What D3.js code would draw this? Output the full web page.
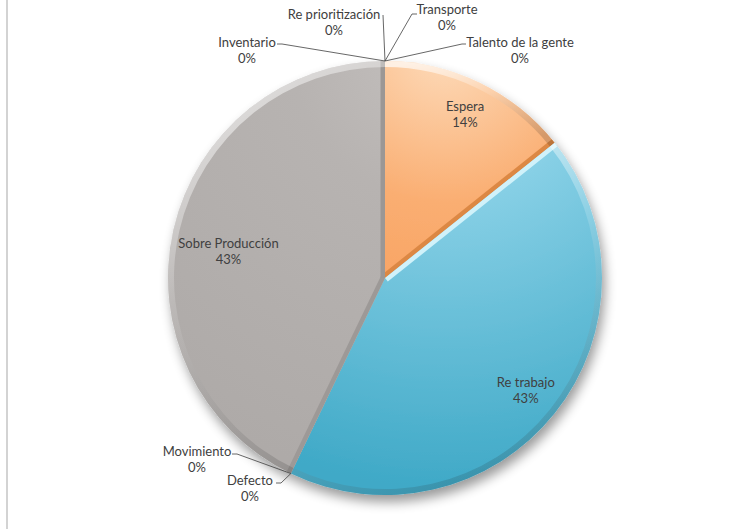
<!DOCTYPE html>
<html><head><meta charset="utf-8">
<script src="https://cdn.jsdelivr.net/npm/d3@7"></script>
<style>body{margin:0;background:#fff}svg{display:block}</style>
</head><body>
<script>
// ---- data ----
const categories = ["Transporte","Talento de la gente","Espera","Re trabajo","Defecto","Movimiento","Sobre Producción","Inventario","Re prioritización"];
const values     = [0, 0, 1, 3, 0, 0, 3, 0, 0];

// ---- layout / style (not data) ----
const W = 753, H = 529, cx = 385, cy = 278, R = 217;
const fills = {
  "Espera":          ["#fddcbc","#faae72","#f58f45"],
  "Re trabajo":      ["#bfe9f6","#86cfe5","#3fa9c7"],
  "Sobre Producción":["#c4c0be","#b7b3b1","#aeaaa8"]
};
// edge colours: [start edge, end edge]
const edges = {
  "Espera":          [null,"#dc8844"],
  "Re trabajo":      ["#d0f2fa",null],
  "Sobre Producción":["#9d9997","#9b9795"]
};
const insideR = {"Espera":0.85,"Re trabajo":0.83,"Sobre Producción":0.74};
const insideDy = {"Espera":2,"Re trabajo":0,"Sobre Producción":9};
const zeroLabels = {
  "Transporte":         {x:447,y:14, ex:417,ey:14, kx:412},
  "Talento de la gente":{x:520,y:47, ex:466,ey:44, kx:462},
  "Defecto":            {x:250,y:485,ex:276,ey:483,kx:281},
  "Movimiento":         {x:197,y:456,ex:232,ey:454,kx:237},
  "Inventario":         {x:247,y:47, ex:277,ey:44, kx:282},
  "Re prioritización":  {x:334,y:19, ex:383,ey:15, kx:383}
};
const FS = 13;

const svg = d3.select("body").append("svg").attr("width",W).attr("height",H)
  .style("font-family","Lato, 'Open Sans', sans-serif");
svg.append("rect").attr("width",W).attr("height",H).attr("fill","#fff");
svg.append("line").attr("x1",7).attr("x2",7).attr("y1",0).attr("y2",H)
  .attr("stroke","#d3d3d3").attr("stroke-width",2);

const defs = svg.append("defs");
const f = defs.append("filter").attr("id","sh").attr("x","-20%").attr("y","-20%").attr("width","140%").attr("height","140%");
f.append("feGaussianBlur").attr("in","SourceAlpha").attr("stdDeviation",6);
f.append("feOffset").attr("dx",3).attr("dy",7).attr("result","b");
f.append("feComponentTransfer").append("feFuncA").attr("type","linear").attr("slope",0.4);
const fm = f.append("feMerge"); fm.append("feMergeNode"); fm.append("feMergeNode").attr("in","SourceGraphic");

const fillKeys = Object.keys(fills);
fillKeys.forEach((k,i)=>{
  const c = fills[k];
  const g = defs.append("radialGradient").attr("id","g"+i)
    .attr("gradientUnits","userSpaceOnUse").attr("cx",60).attr("cy",-230).attr("r",440);
  g.append("stop").attr("offset","0%").attr("stop-color",c[0]);
  g.append("stop").attr("offset","35%").attr("stop-color",c[1]);
  g.append("stop").attr("offset","100%").attr("stop-color",c[2]);
});
const gradId = k => "url(#g"+fillKeys.indexOf(k)+")";
const rim = defs.append("linearGradient").attr("id","rim").attr("x1","0.2").attr("y1","0").attr("x2","0.6").attr("y2","1");
rim.append("stop").attr("offset","0%").attr("stop-color","#fff").attr("stop-opacity",0.7);
rim.append("stop").attr("offset","45%").attr("stop-color","#fff").attr("stop-opacity",0.15);
rim.append("stop").attr("offset","100%").attr("stop-color","#000").attr("stop-opacity",0.15);

const data = categories.map((c,i)=>({cat:c,val:values[i]}));
const total = d3.sum(values);
const pie = d3.pie().value(d=>d.val).sort(null);
const arcs = pie(data);
const arcFull = d3.arc().innerRadius(0).outerRadius(R);
const arcRim = d3.arc().innerRadius(R-6).outerRadius(R);

const g = svg.append("g").attr("transform",`translate(${cx},${cy})`);
const nz = arcs.filter(a=>a.data.val>0);
nz.forEach((a,i)=>defs.append("clipPath").attr("id","c"+i).append("path").attr("d",arcFull(a)));

const pg = g.append("g").attr("filter","url(#sh)");
pg.selectAll("path.base").data(nz).join("path").attr("class","base")
  .attr("d",arcFull).attr("fill",d=>gradId(d.data.cat));

nz.forEach((a,i)=>{
  const cg = g.append("g").attr("clip-path","url(#c"+i+")");
  [a.startAngle,a.endAngle].forEach((ang,j)=>{
    const col = edges[a.data.cat][j]; if(!col) return;
    cg.append("line").attr("x1",0).attr("y1",0)
      .attr("x2",R*Math.sin(ang)).attr("y2",-R*Math.cos(ang))
      .attr("stroke",col).attr("stroke-width",9);
  });
});
g.selectAll("path.rim").data(nz).join("path").attr("class","rim")
  .attr("d",arcRim).attr("fill","url(#rim)");

const pct = v => Math.round(v/total*100)+"%";
nz.forEach(a=>{
  const m=(a.startAngle+a.endAngle)/2, r=R*insideR[a.data.cat];
  const x=r*Math.sin(m), y=-r*Math.cos(m)+insideDy[a.data.cat];
  const t=g.append("text").attr("text-anchor","middle").attr("fill","#404040").attr("font-size",FS);
  t.append("tspan").attr("x",x).attr("y",y-3).text(a.data.cat);
  t.append("tspan").attr("x",x).attr("y",y+13).text(pct(a.data.val));
});
arcs.filter(a=>a.data.val===0).forEach(a=>{
  const L = zeroLabels[a.data.cat];
  const px = cx + R*Math.sin(a.startAngle), py = cy - R*Math.cos(a.startAngle);
  svg.append("path").attr("d",d3.line()([[L.ex,L.ey],[L.kx,L.ey],[px,py]]))
    .attr("fill","none").attr("stroke","#404040").attr("stroke-width",0.8);
  const t=svg.append("text").attr("text-anchor","middle").attr("fill","#404040").attr("font-size",FS);
  t.append("tspan").attr("x",L.x).attr("y",L.y).text(a.data.cat);
  t.append("tspan").attr("x",L.x).attr("y",L.y+16).text(pct(a.data.val));
});
</script>
</body></html>
